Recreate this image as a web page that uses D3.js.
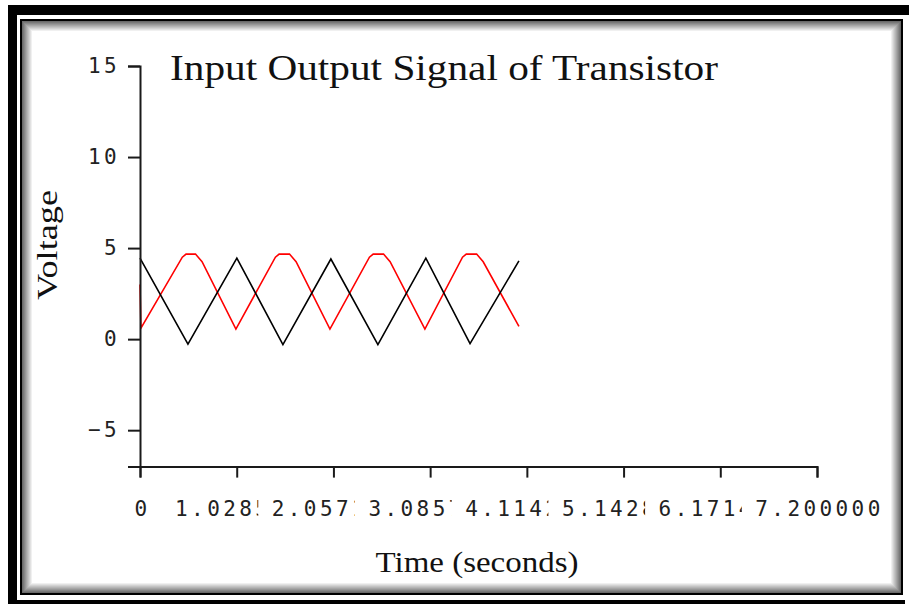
<!DOCTYPE html>
<html>
<head>
<meta charset="utf-8">
<script src="https://d3js.org/d3.v7.min.js"></script>
<style>
  body {margin:0; background:#fff;}
  svg {display:block;}
  .tick text {font-family:'DejaVu Sans Mono',monospace; font-size:21px; letter-spacing:3.4px; fill:#222;}
  .lbl {font-family:'Liberation Serif','Times New Roman',serif; fill:#111;}
</style>
</head>
<body>
<svg id="chart"></svg>
<script>
// values
const blackT=[0,0.51,1.03,1.52,2.03,2.53,3.04,3.51,4.03];
const blackV=[4.45,-0.27,4.45,-0.3,4.4,-0.3,4.45,-0.25,4.3];
const redT=[0,0.01,0.45,0.49,0.59,0.66,1.02,1.44,1.48,1.59,1.66,2.02,2.44,2.48,2.59,2.66,3.03,3.43,3.47,3.58,3.65,4.03];
const redV=[3.0,0.6,4.5,4.67,4.67,4.25,0.55,4.5,4.67,4.67,4.25,0.55,4.5,4.67,4.67,4.25,0.55,4.5,4.67,4.67,4.25,0.7];
const xTicks=[0,1.028571,2.057142,3.085714,4.114285,5.142857,6.171428,7.2];
const xTickLabels=['0','1.028571','2.057142','3.085714','4.114285','5.142857','6.171428','7.200000'];
const yTicks=[-5,0,5,10,15];
const title='Input Output Signal of Transistor',xTitle='Time (seconds)',yTitle='Voltage';

const W=909,H=604;
const svg=d3.select('#chart').attr('width',W).attr('height',H);

// frame: thick black border, thin inner line, inner shadow
svg.append('rect').attr('x',8).attr('y',5).attr('width',901).attr('height',10).attr('fill','#000');
svg.append('rect').attr('x',8).attr('y',5).attr('width',9).attr('height',599).attr('fill','#000');
svg.append('rect').attr('x',8).attr('y',600).attr('width',897).attr('height',4).attr('fill','#000');
svg.append('rect').attr('x',21).attr('y',20).attr('width',881).attr('height',574)
   .attr('fill','none').attr('stroke','#000').attr('stroke-width',2);
const shade=d3.interpolateRgb('#6a6a6a','#ffffff');
d3.range(11).forEach(function(i) {
  svg.append('rect').attr('x',22.5+i).attr('y',21.5+i)
     .attr('width',878-2*i).attr('height',571-2*i)
     .attr('fill','none').attr('stroke',shade(i/10)).attr('stroke-width',1);
});

const x=d3.scaleLinear().domain([0,7.2]).range([140,817]);
const y=d3.scaleLinear().domain([-7,15]).range([466.6,66]);

const black=blackT.map(function(t,i) {return {t:t,v:blackV[i]};});
const red=redT.map(function(t,i) {return {t:t,v:redV[i]};});
const line=d3.line().x(function(d) {return x(d.t);}).y(function(d) {return y(d.v);});

svg.append('path').datum(red).attr('d',line)
   .attr('fill','none').attr('stroke','#ff0000').attr('stroke-width',1.6);
svg.append('path').datum(black).attr('d',line)
   .attr('fill','none').attr('stroke','#000').attr('stroke-width',1.6);

// axes
const gy=svg.append('g').attr('transform','translate(140,0)')
   .call(d3.axisLeft(y).tickValues(yTicks).tickSize(12).tickPadding(8));
const gx=svg.append('g').attr('transform','translate(0,466.6)')
   .call(d3.axisBottom(x).tickValues(xTicks).tickSize(11).tickPadding(23)
         .tickFormat(function(d,i) {return xTickLabels[i];}));
[gx,gy].forEach(function(g) {
  g.selectAll('path,line').attr('stroke','#1a1a1a').attr('stroke-width',2);
  g.attr('font-family',null).attr('font-size',null);
});
gx.selectAll('.tick text').attr('dx',2);
// each label hides the tail of the one before it
gx.selectAll('.tick').each(function() {
  const t=d3.select(this).select('text');
  const len=t.node().getComputedTextLength();
  d3.select(this).insert('rect','text')
    .attr('x',-len/2-11.5).attr('y',30).attr('width',len+11.5).attr('height',26)
    .attr('fill','#fff');
});

svg.append('text').attr('class','lbl').attr('x',170).attr('y',80)
   .attr('font-size',35).attr('textLength',548).attr('lengthAdjust','spacingAndGlyphs')
   .text(title);
svg.append('text').attr('class','lbl').attr('x',477).attr('y',572)
   .attr('text-anchor','middle').attr('font-size',29)
   .attr('textLength',203).attr('lengthAdjust','spacingAndGlyphs').text(xTitle);
svg.append('text').attr('class','lbl')
   .attr('transform','translate(57,245) rotate(-90)')
   .attr('text-anchor','middle').attr('font-size',30)
   .attr('textLength',110).attr('lengthAdjust','spacingAndGlyphs').text(yTitle);
</script>
</body>
</html>
